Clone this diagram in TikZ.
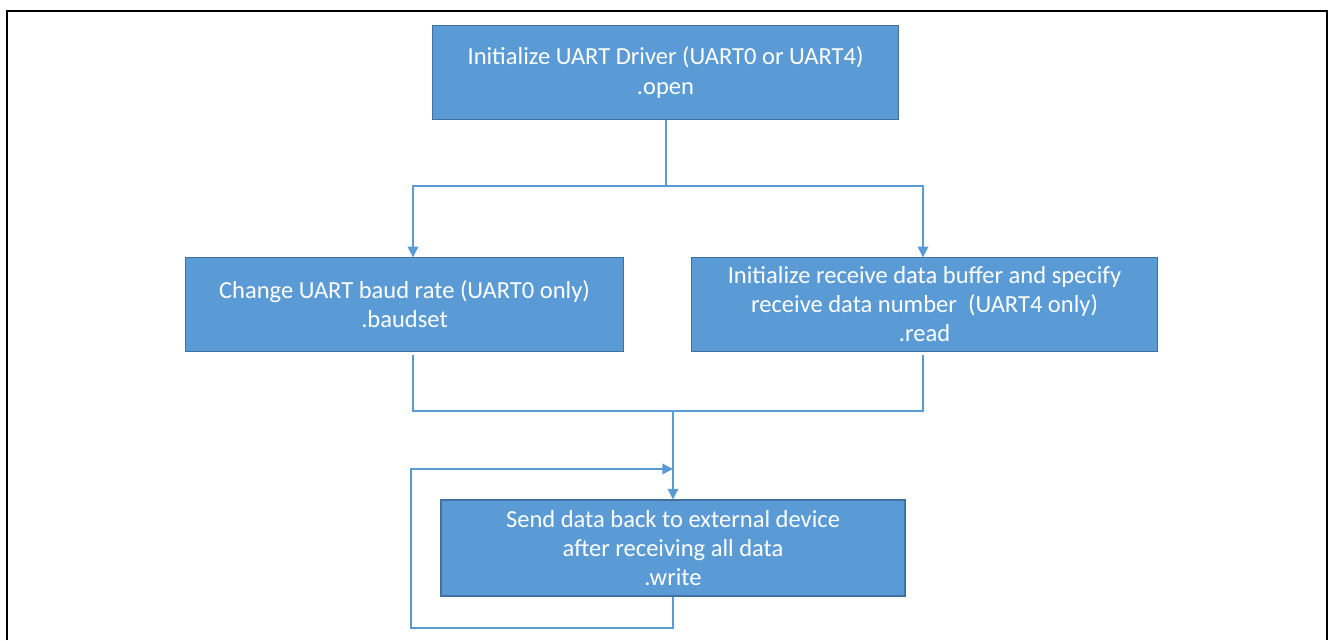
\documentclass[tikz,border=0pt]{standalone}
\usepackage{fontspec}
\setmainfont{Carlito}
\usetikzlibrary{arrows.meta}

\definecolor{boxblue}{HTML}{5B9BD5}
\definecolor{boxedge}{HTML}{41719C}

\tikzset{
	stepbox/.style={draw=boxedge, line width=0.8pt, fill=boxblue, text=white,
		align=center, inner sep=0pt, font=\fontsize{18.4}{21.8}\selectfont},
	flow/.style={draw=boxblue, line width=1pt},
	flowarrow/.style={flow, -{Triangle[length=8pt,width=8pt]}}
}

\begin{document}
\begin{tikzpicture}[x=0.75pt,y=-0.75pt]
	\useasboundingbox (0,0) rectangle (1328,640);
	
	% outer frame (open at the bottom)
	\draw[line width=2.2pt] (7,640) -- (7,11) -- (1327,11) -- (1327,640);
	
	\node[stepbox, minimum width=349pt, minimum height=71pt] (open) at (665.5,72.5)
		{Initialize UART Driver (UART0 or UART4)\\.open};
	\node[stepbox, minimum width=329pt, minimum height=70pt] (baudset) at (404.5,304.5)
		{Change UART baud rate (UART0 only)\\.baudset};
	\node[stepbox, minimum width=349pt, minimum height=70pt] (read) at (924.5,304.5)
		{Initialize receive data buffer and specify\\receive data number\ \ (UART4 only)\\.read};
	\node[stepbox, minimum width=348pt, minimum height=72pt] (write) at (673,548)
		{Send data back to external device\\after receiving all data\\.write};
	
	% junctions
	\coordinate (split) at (666,186);
	\coordinate (merge) at (673,411);
	\coordinate (loopin) at (673,469);
	
	\draw[flow] (open.south -| split) -- (split);
	\draw[flowarrow] (split) -| (baudset.north -| 413,0);
	\draw[flowarrow] (split) -| (read.north -| 923,0);
	
	\draw[flow] (413,355) |- (merge) -| (923,355);
	\draw[flowarrow] (merge) -- (write.north -| merge);
	
	% repeat loop
	\draw[flowarrow] (write.south -| loopin) -- (673,628) -| (411,469) -- (loopin);
\end{tikzpicture}
\end{document}
